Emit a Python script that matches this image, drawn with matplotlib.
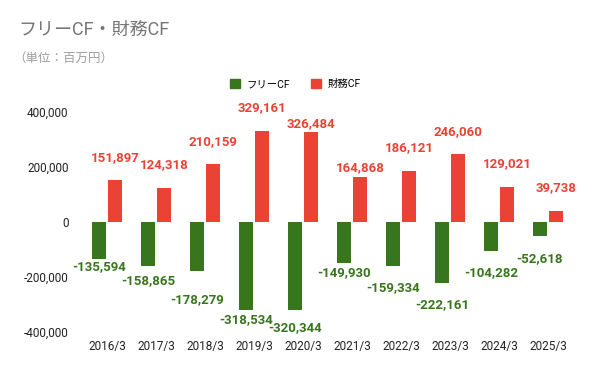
import numpy as np
import matplotlib
matplotlib.use("Agg")
import matplotlib.pyplot as plt
from matplotlib.patches import Patch

plt.rcParams['font.family'] = ['Roboto', 'Noto Sans CJK JP', 'DejaVu Sans']

# --- data ---
years = ["2016/3", "2017/3", "2018/3", "2019/3", "2020/3",
         "2021/3", "2022/3", "2023/3", "2024/3", "2025/3"]
free_cf = [-135594, -158865, -178279, -318534, -320344,
           -149930, -159334, -222161, -104282, -52618]
fin_cf = [151897, 124318, 210159, 329161, 326484,
          164868, 186121, 246060, 129021, 39738]
series_names = ["フリーCF", "財務CF"]
yticks = [-400000, -200000, 0, 200000, 400000]

# label offsets (px, label centre from bar end) - the original staggers them to avoid overlap
green_off = [7, 15, 29, 10, 18, 9, 22, 22, 22, 22]
red_off = [23, 23, 23, 24, 9, 9, 23, 23, 23, 23]

GREEN = "#38761d"
RED = "#ea4335"
PX = 0.72  # px -> pt at dpi 100

fig = plt.figure(figsize=(6, 3.71), dpi=100)
ax = fig.add_axes([82.5 / 600, 1 - 332 / 371, 490 / 600, 220 / 371])

x = np.arange(len(years))
w = 0.29
off = 0.165
ax.bar(x - off, free_cf, width=w, color=GREEN, zorder=2)
ax.bar(x + off, fin_cf, width=w, color=RED, zorder=2)

for xi, v, d in zip(x, free_cf, green_off):
    ax.annotate(f"{v:,}", (xi - off, v), xytext=(0, -d * PX), textcoords="offset points",
                ha="center", va="center", color=GREEN, fontsize=9.5, fontweight="bold")
for xi, v, d in zip(x, fin_cf, red_off):
    ax.annotate(f"{v:,}", (xi + off, v), xytext=(0, d * PX), textcoords="offset points",
                ha="center", va="center", color=RED, fontsize=9.5, fontweight="bold")

ax.set_xlim(-0.5, len(years) - 0.5)
ax.set_ylim(-400000, 400000)
ax.set_xticks(x)
ax.set_xticklabels(years, fontsize=8.5, color="#222222")
ax.set_yticks(yticks)
ax.set_yticklabels([f"{t:,}" for t in yticks], fontsize=8.5, color="#222222")
ax.tick_params(axis="x", length=0, pad=6)
ax.tick_params(axis="y", length=0, pad=10)
for s in ax.spines.values():
    s.set_visible(False)

fig.text(18 / 600, 1 - 30 / 371, "フリーCF・財務CF", fontsize=13, color="#757575",
         va="center", ha="left")
fig.text(13 / 600, 1 - 58 / 371, "（単位：百万円）", fontsize=9, color="#9e9e9e",
         va="center", ha="left")

handles = [Patch(color=GREEN), Patch(color=RED)]
fig.legend(handles, series_names, loc="center", bbox_to_anchor=(0.492, 1 - 84 / 371),
           ncol=2, frameon=False, fontsize=7.5, handlelength=1.0, handleheight=1.0,
           columnspacing=2.0, handletextpad=0.6)

fig.savefig("out.png", dpi=100)
